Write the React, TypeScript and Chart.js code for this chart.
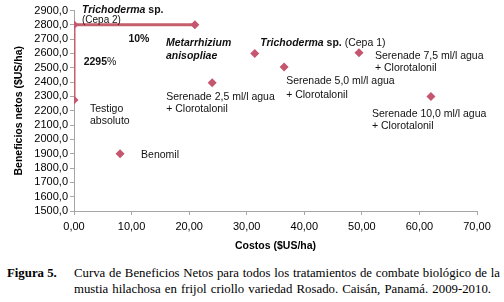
import React, { useEffect, useRef } from "react";
import { Chart, registerables } from "chart.js";

Chart.register(...registerables);

// ---- data ----
const treatments = [
  "Testigo absoluto",
  "Trichoderma sp. (Cepa 2)",
  "Metarrhizium anisopliae",
  "Benomil",
  "Serenade 2,5 ml/l agua + Clorotalonil",
  "Trichoderma sp. (Cepa 1)",
  "Serenade 5,0 ml/l agua + Clorotalonil",
  "Serenade 7,5 ml/l agua + Clorotalonil",
  "Serenade 10,0 ml/l agua + Clorotalonil",
];
const costs = [0, 0, 21, 8, 24, 31.4, 36.5, 49.5, 62];
const benefits = [2275, 2800, 2800, 1900, 2395, 2600, 2505, 2605, 2300];
const frontierIdx = [0, 1, 2];
const frontierPct = ["2295", "10"];
const xTicks = [0, 10, 20, 30, 40, 50, 60, 70];
const yMin = 1500;
const yMax = 2900;
const yStep = 100;
const xTitle = "Costos ($US/ha)";
const yTitle = "Beneficios netos ($US/ha)";
const captionLabel = "Figura 5.";
const captionText = [
  "Curva de Beneficios Netos para todos los tratamientos de combate biológico de la",
  "mustia hilachosa en frijol criollo variedad Rosado. Caisán, Panamá. 2009-2010.",
];

// ---- label text as rich spans (b = bold, i = italic) ----
type Span = { t: string; b?: boolean; i?: boolean; s?: number };
const pointLabelText: Span[][][] = [
  [[{ t: "Testigo" }], [{ t: "absoluto" }]],
  [[{ t: "Trichoderma", b: true, i: true }, { t: " sp.", b: true }], [{ t: "(Cepa 2)", s: 10 }]],
  [[{ t: "Metarrhizium", b: true, i: true }], [{ t: "anisopliae", b: true, i: true }]],
  [[{ t: "Benomil" }]],
  [[{ t: "Serenade 2,5 ml/l agua" }], [{ t: "+ Clorotalonil" }]],
  [[{ t: "Trichoderma", b: true, i: true }, { t: " sp.", b: true }, { t: " (Cepa 1)" }]],
  [[{ t: "Serenade 5,0 ml/l agua" }], [{ t: "+ Clorotalonil" }]],
  [[{ t: "Serenade 7,5 ml/l agua" }], [{ t: "+ Clorotalonil" }]],
  [[{ t: "Serenade 10,0 ml/l agua" }], [{ t: "+ Clorotalonil" }]],
];

// ---- label layout (pixel offsets from the point) ----
const pointLabelLayout = [
  { dx: 16, dy: 9, gap: 12 },
  { dx: 8, dy: -15, gap: 10 },
  { dx: -29, dy: 18, gap: 13 },
  { dx: 21, dy: 1, gap: 12 },
  { dx: -46, dy: 14, gap: 12.7 },
  { dx: 5.5, dy: -10.5, gap: 12 },
  { dx: 2, dy: 14, gap: 14 },
  { dx: 16, dy: 3, gap: 12.3 },
  { dx: -59, dy: 17.6, gap: 11.7 },
];
const pctLayout = [
  { dx: 26, dy: 0 },
  { dx: 4.5, dy: 14.7 },
];
const captionLineWidths = [426, 417];

const FONT = '"Liberation Sans", Arial, sans-serif';
const LINE_COLOR = "#c45f6b";
const MARKER_COLOR = "#c5566f";
const AXIS_COLOR = "#a6a6a6";

const comma = (v: number, d: number) => v.toFixed(d).replace(".", ",");

function spanFont(s: Span, size: number) {
  return `${s.i ? "italic " : ""}${s.b ? "bold " : ""}${s.s ?? size}px ${FONT}`;
}

function drawSpans(ctx: CanvasRenderingContext2D, spans: Span[], x: number, y: number, align: "left" | "center", size: number) {
  let total = 0;
  for (const s of spans) {
    ctx.font = spanFont(s, size);
    total += ctx.measureText(s.t).width;
  }
  let cx = align === "center" ? x - total / 2 : x;
  for (const s of spans) {
    ctx.font = spanFont(s, size);
    ctx.fillText(s.t, cx, y);
    cx += ctx.measureText(s.t).width;
  }
}

const labelsPlugin = {
  id: "pointLabels",
  afterDatasetsDraw(chart: any) {
    const { ctx, scales } = chart;
    const xs = scales.x;
    const ys = scales.y;
    ctx.save();
    ctx.fillStyle = "#111";
    ctx.textAlign = "left";
    ctx.textBaseline = "middle";
    pointLabelText.forEach((lines, i) => {
      const px = xs.getPixelForValue(costs[i]);
      const py = ys.getPixelForValue(benefits[i]);
      const L = pointLabelLayout[i];
      lines.forEach((spans, li) => {
        drawSpans(ctx, spans, px + L.dx, py + L.dy + li * L.gap, "left", 10.5);
      });
    });
    for (let k = 0; k < frontierIdx.length - 1; k++) {
      const a = frontierIdx[k];
      const b = frontierIdx[k + 1];
      const mx = (xs.getPixelForValue(costs[a]) + xs.getPixelForValue(costs[b])) / 2;
      const my = (ys.getPixelForValue(benefits[a]) + ys.getPixelForValue(benefits[b])) / 2;
      const L = pctLayout[k];
      drawSpans(ctx, [{ t: frontierPct[k], b: true }, { t: "%", b: k === 1 }], mx + L.dx, my + L.dy, "center", 10.5);
    }
    ctx.restore();
  },
};

export default function App() {
  const ref = useRef<HTMLCanvasElement>(null);
  useEffect(() => {
    if (!ref.current) return;
    const others = treatments.map((_, i) => i).filter((i) => !frontierIdx.includes(i));
    const chart = new Chart(ref.current, {
      type: "scatter",
      data: {
        datasets: [
          {
            type: "line",
            data: frontierIdx.map((i) => ({ x: costs[i], y: benefits[i] })),
            borderColor: LINE_COLOR,
            borderWidth: 3,
            backgroundColor: MARKER_COLOR,
            pointStyle: "rectRot",
            pointRadius: 4.5,
            pointBorderWidth: 0,
            pointBackgroundColor: MARKER_COLOR,
            tension: 0,
            fill: false,
          } as any,
          {
            data: others.map((i) => ({ x: costs[i], y: benefits[i] })),
            pointStyle: "rectRot",
            pointRadius: 4.5,
            pointBorderWidth: 0,
            backgroundColor: MARKER_COLOR,
            borderColor: MARKER_COLOR,
          },
        ],
      },
      options: {
        animation: false,
        responsive: false,
        maintainAspectRatio: false,
        events: [],
        layout: { padding: { top: 10.5, left: 0, right: 27, bottom: 10 } },
        plugins: { legend: { display: false }, tooltip: { enabled: false } },
        scales: {
          x: {
            type: "linear",
            min: xTicks[0],
            max: xTicks[xTicks.length - 1],
            afterBuildTicks: (s: any) => {
              s.ticks = xTicks.map((v) => ({ value: v }));
            },
            ticks: {
              callback: (v: any) => comma(Number(v), 2),
              color: "#000",
              font: { family: FONT, size: 11 },
              padding: 5,
              maxRotation: 0,
              autoSkip: false,
            },
            grid: { drawOnChartArea: false, drawTicks: true, tickLength: 4, color: AXIS_COLOR },
            border: { color: AXIS_COLOR, width: 1 },
            title: {
              display: true,
              text: xTitle,
              color: "#000",
              font: { family: FONT, size: 10.5, weight: "bold" },
              padding: { top: 0, bottom: 0 },
            },
            afterFit: (s: any) => {
              s.height = 41;
            },
          },
          y: {
            type: "linear",
            min: yMin,
            max: yMax,
            ticks: {
              stepSize: yStep,
              callback: (v: any) => comma(Number(v), 1),
              color: "#000",
              font: { family: FONT, size: 11 },
              padding: 2,
              autoSkip: false,
            },
            grid: { drawOnChartArea: false, drawTicks: true, tickLength: 4, color: AXIS_COLOR },
            border: { color: AXIS_COLOR, width: 1 },
            title: {
              display: true,
              text: yTitle,
              color: "#000",
              font: { family: FONT, size: 10.5, weight: "bold" },
              padding: { top: 13, bottom: 0 },
            },
            afterFit: (s: any) => {
              s.width = 74;
            },
          },
        },
      },
      plugins: [labelsPlugin],
    });
    return () => chart.destroy();
  }, []);

  const serif = '"Liberation Serif", "Times New Roman", serif';
  return (
    <div style={{ position: "absolute", left: 0, top: 0, width: 504, height: 302, background: "#fff" }}>
      <canvas ref={ref} width={504} height={262} style={{ position: "absolute", left: 0, top: 0, width: 504, height: 262 }} />
      <div
        style={{
          position: "absolute",
          left: 7,
          top: 266,
          fontFamily: serif,
          fontSize: 12.8,
          lineHeight: "15.6px",
          fontWeight: "bold",
          color: "#000",
          whiteSpace: "nowrap",
        }}
      >
        {captionLabel}
      </div>
      <div
        style={{
          position: "absolute",
          left: 74,
          top: 266,
          fontFamily: serif,
          fontSize: 12.8,
          lineHeight: "15.6px",
          color: "#000",
        }}
      >
        {captionText.map((l, i) => (
          <div
            key={i}
            style={{
              width: captionLineWidths[i],
              textAlign: "justify",
              textAlignLast: "justify",
              whiteSpace: "normal",
            }}
          >
            {l}
          </div>
        ))}
      </div>
    </div>
  );
}
